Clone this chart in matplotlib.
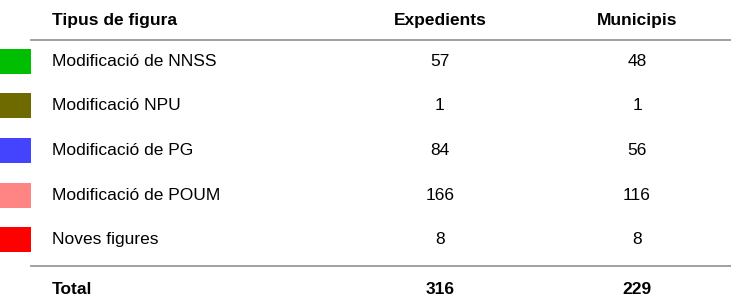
import matplotlib
matplotlib.use("Agg")
import matplotlib.pyplot as plt

# table content
categories = ["Modificació de NNSS", "Modificació NPU", "Modificació de PG",
              "Modificació de POUM", "Noves figures"]
expedients = [57, 1, 84, 166, 8]
municipis = [48, 1, 56, 116, 8]
swatch_colors = ["#00BE00", "#6E6A00", "#4444FF", "#FF8484", "#FF0000"]
headers = ["Tipus de figura", "Expedients", "Municipis"]
total_label = "Total"
total_expedients = 316
total_municipis = 229

W, H = 731, 298
fig = plt.figure(figsize=(W / 100, H / 100), dpi=100)
ax = fig.add_axes([0, 0, 1, 1])
ax.set_xlim(0, W)
ax.set_ylim(H, 0)
ax.axis("off")

plt.rcParams["font.family"] = ["Liberation Sans", "DejaVu Sans"]
fs = 12.5
x_label, x_exp, x_mun = 52, 440, 637
row0, step = 61, 44.7

# header
ax.text(x_label, 20, headers[0], fontsize=fs, fontweight="bold", va="center")
ax.text(x_exp, 20, headers[1], fontsize=fs, fontweight="bold", va="center", ha="center")
ax.text(x_mun, 20, headers[2], fontsize=fs, fontweight="bold", va="center", ha="center")
ax.plot([31, W], [40, 40], color="#999999", lw=1.3)

ys = [row0 + i * step for i in range(len(categories))]
ax.barh(ys, [31] * len(ys), left=0, height=25, color=swatch_colors)
for y, cat, e, m in zip(ys, categories, expedients, municipis):
    ax.text(x_label, y, cat, fontsize=fs, va="center")
    ax.text(x_exp, y, str(e), fontsize=fs, va="center", ha="center")
    ax.text(x_mun, y, str(m), fontsize=fs, va="center", ha="center")

ax.plot([31, W], [266, 266], color="#999999", lw=1.3)
ax.text(x_label, 289, total_label, fontsize=fs, fontweight="bold", va="center")
ax.text(x_exp, 289, str(total_expedients), fontsize=fs, fontweight="bold", va="center", ha="center")
ax.text(x_mun, 289, str(total_municipis), fontsize=fs, fontweight="bold", va="center", ha="center")

fig.savefig("out.png", dpi=100)
